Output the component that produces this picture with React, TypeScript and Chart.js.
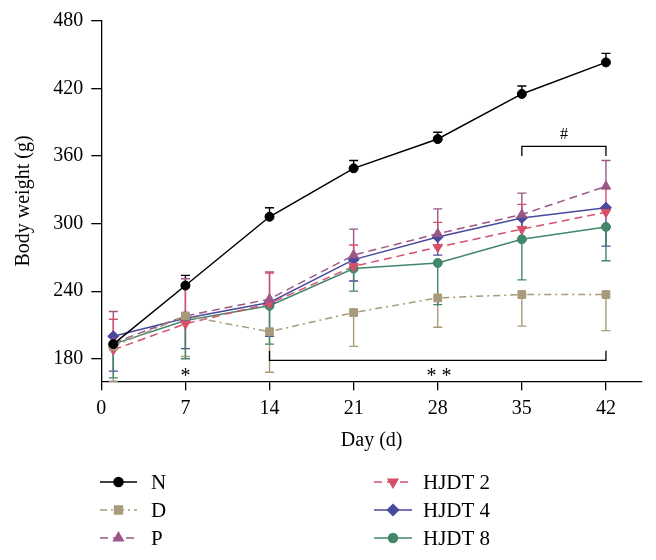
import React, { useEffect, useRef } from 'react';
import { Chart, registerables } from 'chart.js';
import { drawPoint } from 'chart.js/helpers';

Chart.register(...registerables);

// ---- data ----
const days = [1, 7, 14, 21, 28, 35, 42];
const xTicks = [0, 7, 14, 21, 28, 35, 42];
const yTicks = [180, 240, 300, 360, 420, 480];

const nMean = [193, 245, 306, 349, 375, 415, 443];
const nSd = [6, 9, 8, 7, 6, 7, 8];
const dMean = [191, 218, 204, 221, 234, 237, 237];
const dSd = [31, 36, 36, 30, 26, 28, 32];
const pMean = [194, 218, 233, 272, 291, 308, 333];
const pSd = [28, 33, 24, 23, 22, 19, 23];
const h2Mean = [188, 211, 229, 262, 279, 295, 310];
const h2Sd = [27, 32, 27, 19, 22, 22, 21];
const h4Mean = [200, 216, 230, 268, 288, 305, 314];
const h4Sd = [31, 27, 30, 19, 16, 20, 34];
const h8Mean = [193, 214, 227, 260, 265, 286, 297];
const h8Sd = [30, 34, 34, 20, 37, 36, 30];

// significance annotations (data coordinates)
const starBracket = { x0: 14, x1: 42, y: 178.5, yEnd: 187 };
const hashBracket = { x0: 35, x1: 42, y: 368.4, yEnd: 360 };
const marks = [
  { text: '*', x: 7, y: 168.5, size: 20 },
  { text: '* *', x: 28.1, y: 168.5, size: 20 },
  { text: '#', x: 38.5, y: 379.5, size: 16 },
];

const FONT = '"Liberation Serif", "Times New Roman", serif';

type Series = {
  label: string;
  mean: number[];
  sd: number[];
  dir: number; // +1 up, -1 down
  color: string;
  dash: number[];
  style: string;
  radius: number;
  rotation: number;
};

const series: Series[] = [
  { label: 'N', mean: nMean, sd: nSd, dir: 1, color: '#000000', dash: [], style: 'circle', radius: 4.5, rotation: 0 },
  { label: 'D', mean: dMean, sd: dSd, dir: -1, color: '#a89a7a', dash: [7, 4, 2, 4], style: 'rect', radius: 5.5, rotation: 0 },
  { label: 'P', mean: pMean, sd: pSd, dir: 1, color: '#9b5787', dash: [8, 5], style: 'triangle', radius: 5.5, rotation: 0 },
  { label: 'HJDT 2', mean: h2Mean, sd: h2Sd, dir: 1, color: '#d5506a', dash: [8, 5], style: 'triangle', radius: 5.5, rotation: 180 },
  { label: 'HJDT 4', mean: h4Mean, sd: h4Sd, dir: -1, color: '#4a4a9c', dash: [], style: 'rectRot', radius: 5.5, rotation: 0 },
  { label: 'HJDT 8', mean: h8Mean, sd: h8Sd, dir: -1, color: '#43876a', dash: [], style: 'circle', radius: 4.5, rotation: 0 },
];

const legendPos = [
  { x0: 100, x1: 137, text: 151, y: 482 },
  { x0: 100, x1: 137, text: 151, y: 510 },
  { x0: 100, x1: 137, text: 151, y: 538 },
  { x0: 374, x1: 412, text: 423, y: 482 },
  { x0: 374, x1: 412, text: 423, y: 510 },
  { x0: 374, x1: 412, text: 423, y: 538 },
];

const errorBarPlugin = {
  id: 'errorBars',
  beforeDatasetsDraw(chart: any) {
    const ctx = chart.ctx;
    const yS = chart.scales.y;
    ctx.save();
    series.forEach((s, i) => {
      const meta = chart.getDatasetMeta(i);
      ctx.strokeStyle = s.color;
      ctx.lineWidth = 1.4;
      ctx.setLineDash([]);
      meta.data.forEach((pt: any, j: number) => {
        const x = pt.x;
        const y0 = yS.getPixelForValue(s.mean[j]);
        const y1 = yS.getPixelForValue(s.mean[j] + s.dir * s.sd[j]);
        ctx.beginPath();
        ctx.moveTo(x, y0);
        ctx.lineTo(x, y1);
        ctx.moveTo(x - 4.5, y1);
        ctx.lineTo(x + 4.5, y1);
        ctx.stroke();
      });
    });
    ctx.restore();
  },
};

const annotationPlugin = {
  id: 'annot',
  afterDraw(chart: any) {
    const ctx = chart.ctx;
    const xS = chart.scales.x;
    const yS = chart.scales.y;
    ctx.save();
    ctx.strokeStyle = '#000';
    ctx.lineWidth = 1.3;
    ctx.setLineDash([]);
    [starBracket, hashBracket].forEach((b) => {
      ctx.beginPath();
      ctx.moveTo(xS.getPixelForValue(b.x0), yS.getPixelForValue(b.yEnd));
      ctx.lineTo(xS.getPixelForValue(b.x0), yS.getPixelForValue(b.y));
      ctx.lineTo(xS.getPixelForValue(b.x1), yS.getPixelForValue(b.y));
      ctx.lineTo(xS.getPixelForValue(b.x1), yS.getPixelForValue(b.yEnd));
      ctx.stroke();
    });
    ctx.fillStyle = '#000';
    ctx.textAlign = 'center';
    ctx.textBaseline = 'alphabetic';
    marks.forEach((m) => {
      ctx.font = `${m.size}px ${FONT}`;
      const cy = yS.getPixelForValue(m.y);
      const off = m.text === '#' ? m.size * 0.34 : m.size * 0.5;
      ctx.fillText(m.text, xS.getPixelForValue(m.x), cy + off);
    });

    // legend
    series.forEach((s, i) => {
      const p = legendPos[i];
      ctx.strokeStyle = s.color;
      ctx.lineWidth = 1.5;
      ctx.setLineDash(s.dash);
      ctx.beginPath();
      ctx.moveTo(p.x0, p.y);
      ctx.lineTo(p.x1, p.y);
      ctx.stroke();
      ctx.setLineDash([]);
      ctx.fillStyle = s.color;
      drawPoint(ctx, { pointStyle: s.style, radius: s.radius, rotation: s.rotation, borderWidth: 1 }, (p.x0 + p.x1) / 2, p.y);
      ctx.fillStyle = '#000';
      ctx.font = `21px ${FONT}`;
      ctx.textAlign = 'left';
      ctx.textBaseline = 'middle';
      ctx.fillText(s.label, p.text, p.y + 1);
    });
    ctx.restore();
  },
};

export default function App() {
  const ref = useRef<HTMLCanvasElement>(null);
  useEffect(() => {
    document.body.style.margin = '0';
    const canvas = ref.current;
    if (!canvas) return;
    const chart = new Chart(canvas, {
      type: 'line',
      data: {
        datasets: series.map((s) => ({
          label: s.label,
          data: days.map((d, j) => ({ x: d, y: s.mean[j] })),
          borderColor: s.color,
          backgroundColor: s.color,
          pointBackgroundColor: s.color,
          pointBorderColor: s.color,
          borderWidth: 1.5,
          borderDash: s.dash,
          pointStyle: s.style as any,
          pointRadius: s.radius,
          pointRotation: s.rotation,
          pointBorderWidth: 1,
          tension: 0,
          fill: false,
        })),
      },
      options: {
        animation: false,
        responsive: false,
        devicePixelRatio: 1,
        layout: { padding: { left: 0, top: 20.7, right: 14, bottom: 107.7 } },
        plugins: { legend: { display: false }, tooltip: { enabled: false } },
        scales: {
          x: {
            type: 'linear',
            min: 0,
            max: 45,
            afterBuildTicks: (scale: any) => {
              scale.ticks = xTicks.map((v) => ({ value: v }));
            },
            afterFit: (scale: any) => {
              scale.height = 71;
            },
            border: { display: true, color: '#000', width: 1.3 },
            grid: { display: true, drawOnChartArea: false, drawTicks: true, tickLength: 9, color: '#000', lineWidth: 1.3 },
            ticks: { color: '#000', font: { family: FONT, size: 20 }, padding: 6, maxRotation: 0, autoSkip: false },
            title: { display: true, text: 'Day (d)', color: '#000', font: { family: FONT, size: 20 }, padding: { top: 0, bottom: 0 } },
          },
          y: {
            type: 'linear',
            min: 160,
            max: 480,
            afterBuildTicks: (scale: any) => {
              scale.ticks = yTicks.map((v) => ({ value: v }));
            },
            afterFit: (scale: any) => {
              scale.width = 101.3;
            },
            border: { display: true, color: '#000', width: 1.3 },
            grid: { display: true, drawOnChartArea: false, drawTicks: true, tickLength: 10, color: '#000', lineWidth: 1.3 },
            ticks: { color: '#000', font: { family: FONT, size: 20 }, padding: 8, autoSkip: false },
            title: { display: true, text: 'Body weight (g)', color: '#000', font: { family: FONT, size: 20 }, padding: { top: 12, bottom: 0 } },
          },
        },
      },
      plugins: [errorBarPlugin, annotationPlugin],
    } as any);
    return () => chart.destroy();
  }, []);
  return (
    <div style={{ width: 656, height: 560 }}>
      <canvas ref={ref} width={656} height={560} style={{ display: 'block', width: 656, height: 560 }} />
    </div>
  );
}
